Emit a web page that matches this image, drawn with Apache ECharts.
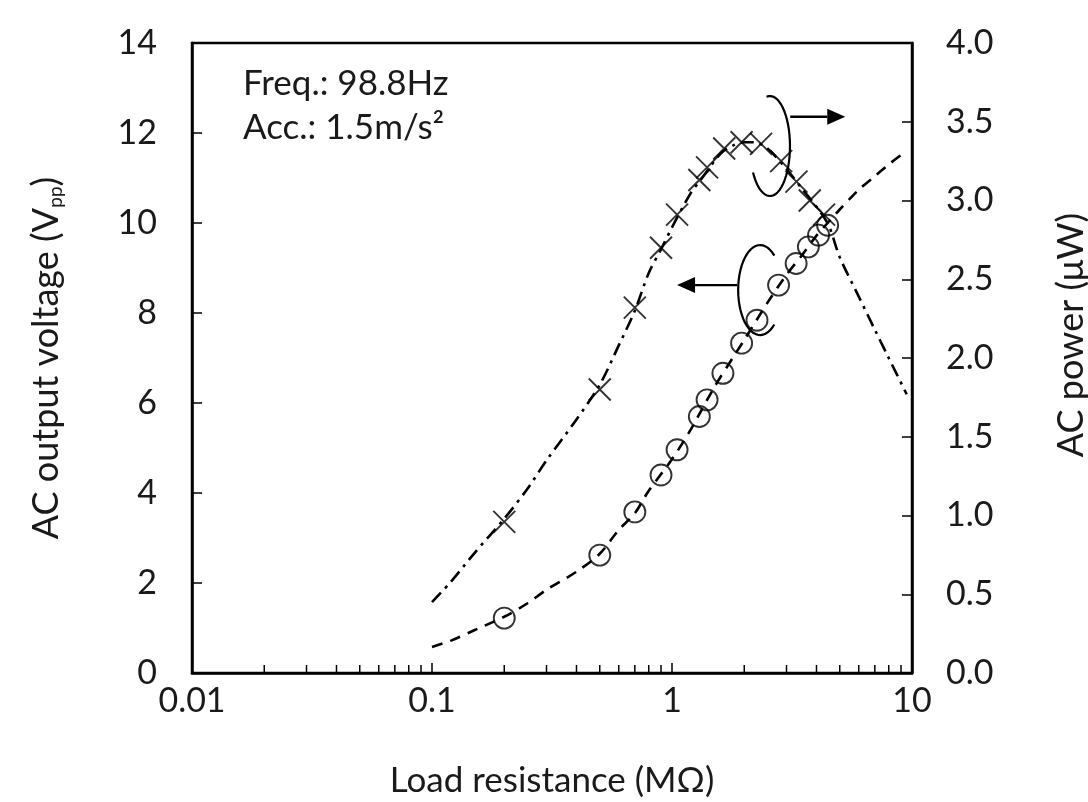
<!DOCTYPE html>
<html><head><meta charset="utf-8">
<script src="https://cdn.jsdelivr.net/npm/echarts@6/dist/echarts.min.js"></script>
<style>html,body{margin:0;padding:0;background:#fff}#c{width:1088px;height:802px}</style>
</head><body><div id="c"></div>
<script>
// Measured voltage (open circles, left axis)
const resV = [0.2, 0.5, 0.7, 0.9, 1.05, 1.3, 1.4, 1.63, 1.95, 2.26, 2.78, 3.29, 3.7, 4.08, 4.45];
const voltV = [1.22, 2.62, 3.58, 4.40, 4.96, 5.70, 6.07, 6.66, 7.33, 7.84, 8.62, 9.10, 9.47, 9.73, 9.95];
// Measured power (crosses, right axis)
const resP = [0.2, 0.5, 0.7, 0.9, 1.05, 1.3, 1.4, 1.65, 1.95, 2.35, 2.85, 3.3, 3.75, 4.3];
const powP = [0.96, 1.80, 2.32, 2.70, 2.91, 3.13, 3.21, 3.33, 3.37, 3.36, 3.25, 3.12, 3.00, 2.91];
// Fitted curves
const fitVx = [0.1, 0.12, 0.15, 0.2, 0.25, 0.3, 0.4, 0.5, 0.6, 0.7, 0.8, 1, 1.2, 1.5, 1.8, 2, 2.5, 3, 3.5, 4, 4.45, 5, 6, 7, 8, 9.2];
const fitVy = [0.58, 0.72, 0.95, 1.25, 1.55, 1.85, 2.25, 2.65, 3.18, 3.55, 4.05, 4.75, 5.42, 6.35, 7.02, 7.4, 8.23, 8.85, 9.3, 9.72, 10.0, 10.3, 10.74, 11.04, 11.3, 11.55];
const fitPx = [0.1, 0.12, 0.15, 0.2, 0.25, 0.3, 0.4, 0.5, 0.6, 0.7, 0.8, 0.9, 1, 1.2, 1.3, 1.6, 1.8, 2, 2.2, 2.5, 3, 3.5, 4, 4.5, 5, 6, 7, 8, 9.5];
const fitPy = [0.45, 0.58, 0.76, 0.98, 1.17, 1.35, 1.61, 1.83, 2.08, 2.30, 2.54, 2.69, 2.83, 3.05, 3.12, 3.30, 3.35, 3.37, 3.37, 3.33, 3.20, 3.07, 2.96, 2.84, 2.64, 2.39, 2.18, 2.00, 1.77];
// Axis ticks
const xTickLabels = {'0.01':'0.01','0.1':'0.1','1':'1','10':'10'};
const minorTickValues = [0.02,0.03,0.04,0.05,0.06,0.07,0.08,0.09,0.2,0.3,0.4,0.5,0.6,0.7,0.8,0.9,2,3,4,5,6,7,8,9];

const zip = (a, b) => a.map((v, i) => [v, b[i]]);
const FONT = 'Lato';
const TXT = '#1a1a1a';
const chart = echarts.init(document.getElementById('c'));
const labelStyle = {fontFamily: FONT, fontSize: 34, color: TXT};

chart.setOption({
  animation: false,
  backgroundColor: '#fff',
  grid: {left: 192, right: 176, top: 43, bottom: 129, show: true, borderColor: '#000', borderWidth: 2.5,
         backgroundColor: 'transparent', containLabel: false, outerBoundsMode: 'none'},
  xAxis: {
    type: 'log', logBase: 10, min: 0.01, max: 10,
    name: 'Load resistance (MΩ)', nameLocation: 'middle', nameGap: 90,
    nameTextStyle: {fontFamily: FONT, fontSize: 35, color: TXT},
    axisLine: {show: true, lineStyle: {color: '#000', width: 2.5}},
    axisTick: {show: true, inside: true, length: 10, lineStyle: {color: '#000', width: 1.5}},
    splitLine: {show: false}, minorTick: {show: false},
    axisLabel: Object.assign({margin: 11, formatter: v => {
      const k = String(+v.toPrecision(3)); return xTickLabels[k] !== undefined ? xTickLabels[k] : '';
    }}, labelStyle)
  },
  yAxis: [{
    type: 'value', min: 0, max: 14, interval: 2, position: 'left',
    name: '{a|AC output voltage (V}{b|pp}{a|)}', nameLocation: 'middle', nameGap: 124, nameRotate: 90,
    nameTextStyle: {rich: {
      a: {fontFamily: FONT, fontSize: 36, color: TXT, lineHeight: 44, verticalAlign: 'middle'},
      b: {fontFamily: FONT, fontSize: 19, color: TXT, lineHeight: 44, verticalAlign: 'bottom', padding: [0, 0, 3, 0]}
    }},
    axisLine: {show: true, lineStyle: {color: '#000', width: 2.5}},
    axisTick: {show: true, inside: true, length: 10, lineStyle: {color: '#000', width: 1.5}},
    splitLine: {show: false},
    axisLabel: Object.assign({margin: 35}, labelStyle)
  }, {
    type: 'value', min: 0, max: 4, interval: 0.5, position: 'right',
    axisLine: {show: true, lineStyle: {color: '#000', width: 2.5}},
    axisTick: {show: true, inside: true, length: 10, lineStyle: {color: '#000', width: 1.5}},
    splitLine: {show: false},
    axisLabel: Object.assign({margin: 34, formatter: v => v.toFixed(1)}, labelStyle)
  }],
  series: [{
    type: 'line', name: 'fitV', xAxisIndex: 0, yAxisIndex: 0, data: zip(fitVx, fitVy),
    showSymbol: false, smooth: 0.3, silent: true, z: 2,
    lineStyle: {color: '#000', width: 2.6, type: [11, 8]}
  }, {
    type: 'line', name: 'fitP', xAxisIndex: 0, yAxisIndex: 1, data: zip(fitPx, fitPy),
    showSymbol: false, smooth: 0.3, silent: true, z: 2,
    lineStyle: {color: '#000', width: 2.6, type: [13, 6, 3, 6]}
  }, {
    type: 'scatter', name: 'V', xAxisIndex: 0, yAxisIndex: 0, data: zip(resV, voltV),
    symbol: 'circle', symbolSize: 21, z: 3,
    itemStyle: {color: 'rgba(255,255,255,0)', borderColor: '#000', borderWidth: 1.9}
  }, {
    type: 'scatter', name: 'P', xAxisIndex: 0, yAxisIndex: 1, data: zip(resP, powP),
    symbol: 'path://M0,0L10,10M10,0L0,10', symbolSize: 22, z: 3,
    itemStyle: {color: 'rgba(255,255,255,0)', borderColor: '#000', borderWidth: 1.9}
  }, {
    type: 'custom', name: 'minorTicks', xAxisIndex: 0, yAxisIndex: 0, silent: true, clip: false,
    data: minorTickValues.map(v => [v, 0]),
    renderItem: (params, api) => {
      const p = api.coord([api.value(0), 0]);
      return {type: 'line', shape: {x1: p[0], y1: p[1], x2: p[0], y2: p[1] - 8}, style: {stroke: '#000', lineWidth: 1.5}};
    }
  }]
});

// Annotations (anchored in data space)
const toPx = (x, y) => chart.convertToPixel({xAxisIndex: 0, yAxisIndex: 0}, [x, y]);
function ellArc(c, rx, ry, a0, a1) {
  const pts = []; const n = 40;
  for (let i = 0; i <= n; i++) {
    const a = (a0 + (a1 - a0) * i / n) * Math.PI / 180;
    pts.push([c[0] + rx * Math.cos(a), c[1] + ry * Math.sin(a)]);
  }
  return {type: 'polyline', shape: {points: pts}, style: {stroke: '#000', lineWidth: 2.2, fill: null}, z: 10};
}
function arrow(p0, p1, dir) {
  const head = 18, hw = 8;
  const bx = p1[0] - dir * head;
  return [
    {type: 'line', shape: {x1: p0[0], y1: p0[1], x2: bx, y2: p1[1]}, style: {stroke: '#000', lineWidth: 2.4}, z: 10},
    {type: 'polygon', shape: {points: [[p1[0], p1[1]], [bx, p1[1] - hw], [bx, p1[1] + hw]]}, style: {fill: '#000'}, z: 10}
  ];
}
const upC = toPx(2.56, 11.71), loC = toPx(2.33, 8.51);
const g = [
  ellArc(upC, 20, 50, -100, 148),
  ellArc(loC, 22, 45, 50, 310),
  ...arrow(toPx(3.11, 12.36), toPx(5.27, 12.36), 1),
  ...arrow(toPx(1.87, 8.62), toPx(1.05, 8.62), -1),
  {type: 'text', left: 243, top: 66, style: {text: 'Freq.: 98.8Hz', font: '35px Lato', fill: TXT}, z: 10},
  {type: 'text', left: 243, top: 110, style: {text: 'Acc.: 1.5m/s²', font: '35px Lato', fill: TXT}, z: 10},
  {type: 'text', x: 1071, y: 335, rotation: Math.PI / 2,
   style: {text: 'AC power (μW)', font: '36px Lato', fill: TXT, align: 'center', verticalAlign: 'middle'}, z: 10}
];
chart.setOption({graphic: g});
</script></body></html>
